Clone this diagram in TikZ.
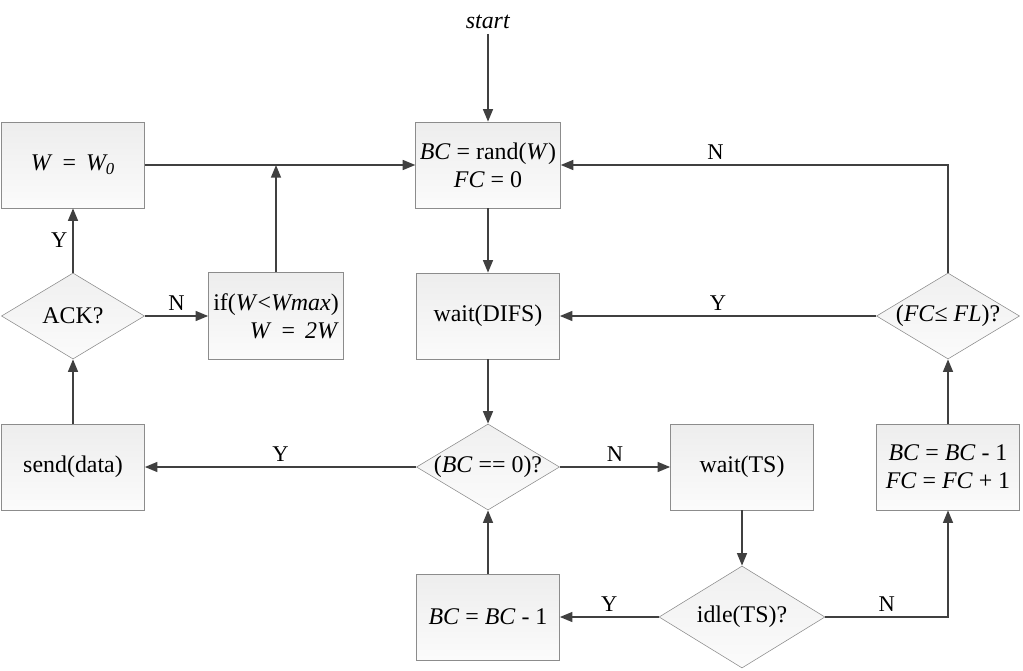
\documentclass[tikz,border=0pt]{standalone}
\usepackage{fontspec}
\setmainfont{Liberation Serif}
\usetikzlibrary{arrows.meta,shapes.geometric}
\definecolor{FlowLine}{HTML}{404040}
\definecolor{FlowEdge}{HTML}{8C8C8C}
\newcommand{\flatlabel}[1]{\makebox[0pt]{#1}}

\begin{document}
\begin{tikzpicture}[
  proc/.style={rectangle,minimum width=3.575cm,minimum height=2.15cm,
               align=center,inner sep=3pt,draw=FlowEdge,
               top color=gray!14,bottom color=gray!3,
               font=\fontsize{17}{20}\selectfont},
  dec/.style={diamond,minimum width=3.575cm,minimum height=2.15cm,
              inner sep=0pt,draw=FlowEdge,
              top color=gray!12,bottom color=gray!3,
              font=\fontsize{17}{20}\selectfont},
  tag/.style={font=\fontsize{16}{18}\selectfont,text=black},
  arrow/.style={-{Triangle[length=9pt,width=7pt]},FlowLine,line width=1.4pt}
]
  \useasboundingbox (0,0) rectangle (25.575,-16.775);

  \node[font=\fontsize{17}{20}\selectfont] (start) at (12.2,-0.55) {\textit{start}};
  \node[proc] (init) at (12.2,-4.125) {
    \textit{BC} = rand(\textit{W})\\
    \textit{FC} = 0
  };
  \node[proc] (w0) at (1.825,-4.125) {\textit{W} \,=\, \textit{W\textsubscript{0}}};
  \node[dec] (ack) at (1.825,-7.9) {\flatlabel{ACK?}};
  \node[proc,align=right,minimum width=3.375cm,minimum height=2.175cm] (grow) at (6.9,-7.9) {
    if(\textit{W}<\textit{Wmax})\\
    \textit{W} \,=\, \textit{2W}
  };
  \node[proc] (difs) at (12.2,-7.9) {wait(DIFS)};
  \node[dec] (fcfl) at (23.7,-7.9) {\flatlabel{(\textit{FC}≤ \textit{FL})?}};
  \node[proc] (send) at (1.825,-11.675) {send(data)};
  \node[dec] (bczero) at (12.2,-11.675) {\flatlabel{(\textit{BC} == 0)?}};
  \node[proc] (waitts) at (18.55,-11.675) {wait(TS)};
  \node[proc] (count) at (23.7,-11.675) {
    \textit{BC} = \textit{BC} - 1\\
    \textit{FC} = \textit{FC} + 1
  };
  \node[proc] (bcdec) at (12.2,-15.425) {\textit{BC} = \textit{BC} - 1};
  \node[dec,minimum width=4.15cm,minimum height=2.55cm] (idle) at (18.55,-15.425) {\flatlabel{idle(TS)?}};

  \draw[arrow] (start)--(init);
  \draw[arrow] (w0)--(init);
  \draw[arrow] (grow.north)--(grow.north |- w0.east);
  \draw[arrow] (ack)--(w0) node[tag,midway,left] {Y};
  \draw[arrow] (ack)--(grow) node[tag,midway,above] {N};
  \draw[arrow] (send)--(ack);
  \draw[arrow] (init)--(difs);
  \draw[arrow] (difs)--(bczero);
  \draw[arrow] (bczero)--(send) node[tag,midway,above] {Y};
  \draw[arrow] (bczero)--(waitts) node[tag,midway,above] {N};
  \draw[arrow] (waitts)--(idle);
  \draw[arrow] (idle)--(bcdec) node[tag,midway,above] {Y};
  \draw[arrow] (idle.east) -| (count.south) node[tag,pos=0.25,above] {N};
  \draw[arrow] (bcdec)--(bczero);
  \draw[arrow] (count)--(fcfl);
  \draw[arrow] (fcfl)--(difs) node[tag,midway,above] {Y};
  \draw[arrow] (fcfl.north) |- (init.east) node[tag,pos=0.8,above] {N};
\end{tikzpicture}
\end{document}
